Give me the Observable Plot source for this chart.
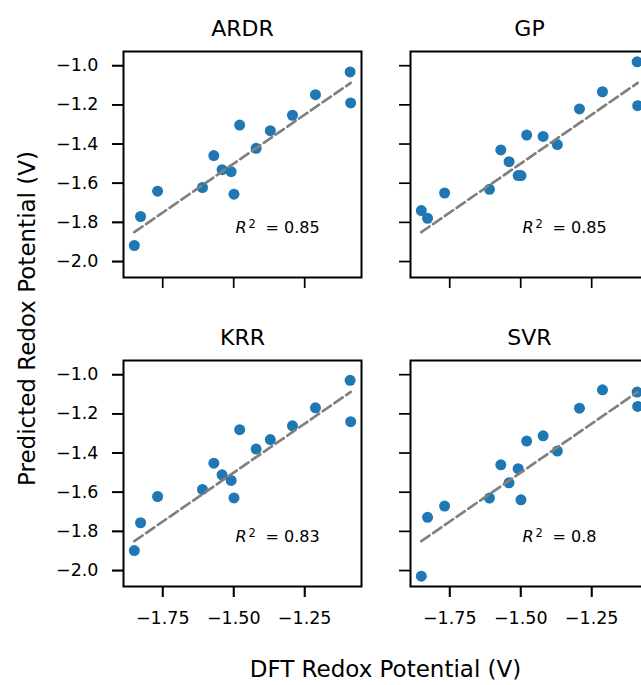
<!DOCTYPE html>
<html><head><meta charset="utf-8">
<script src="https://cdn.jsdelivr.net/npm/d3@7"></script>
<script src="https://cdn.jsdelivr.net/npm/@observablehq/plot@0.6"></script>
<style>
html,body{margin:0;padding:0;background:#fff;overflow:hidden;}
#chart{width:641px;height:685px;overflow:hidden;position:relative;}
#chart svg{max-width:none !important;}
</style></head><body><div id="chart"></div>
<script>
const models = ["ARDR", "GP", "KRR", "SVR"];
const r2Labels = ["0.85", "0.85", "0.83", "0.8"];
const dft  = [-1.850, -1.828, -1.768, -1.610, -1.570, -1.541, -1.509, -1.499, -1.479, -1.421, -1.371, -1.293, -1.212, -1.090, -1.088];
const ardr = [-1.918, -1.770, -1.641, -1.622, -1.459, -1.531, -1.541, -1.656, -1.303, -1.422, -1.332, -1.253, -1.148, -1.032, -1.190];
const gp   = [-1.740, -1.779, -1.650, -1.631, -1.430, -1.490, -1.561, -1.561, -1.354, -1.361, -1.403, -1.221, -1.133, -0.980, -1.204];
const krr  = [-1.898, -1.756, -1.622, -1.586, -1.452, -1.511, -1.540, -1.629, -1.281, -1.380, -1.331, -1.261, -1.169, -1.029, -1.240];
const svr  = [-2.029, -1.728, -1.671, -1.630, -1.460, -1.552, -1.480, -1.639, -1.339, -1.312, -1.390, -1.171, -1.077, -1.089, -1.162];
const xTicks = [-1.75, -1.5, -1.25];
const yTicks = [-2.0, -1.8, -1.6, -1.4, -1.2, -1.0];
const xLabel = "DFT Redox Potential (V)";
const yLabel = "Predicted Redox Potential (V)";

const predicted = {ARDR: ardr, GP: gp, KRR: krr, SVR: svr};
const panels = models.map((m, i) => ({model: m, col: i % 2, row: Math.floor(i / 2), r2: r2Labels[i]}));
const points = panels.flatMap(p => dft.map((x, j) => ({...p, x, y: predicted[p.model][j]})));
const [x0, x1] = d3.extent(dft);
const identity = panels.flatMap(p => [{...p, x: x0, y: x0}, {...p, x: x1, y: x1}]);
const pad = e => { const m = (e[1] - e[0]) * 0.05; return [e[0] - m, e[1] + m]; };

const W = 660, H = 685;
const mL = 123, mR = W - 648, mT = 51, mB = 99;
const fc = {fx: "col", fy: "row"};
const blank = () => "";

const plot = Plot.plot({
  width: W, height: H,
  marginLeft: mL, marginRight: mR, marginTop: mT, marginBottom: mB,
  style: {fontFamily: "DejaVu Sans", color: "black", background: "white", maxWidth: "none"},
  fx: {domain: [0, 1], paddingInner: 49 / 287, paddingOuter: 0, axis: null},
  fy: {domain: [0, 1], paddingInner: 83 / 309, paddingOuter: 0, axis: null},
  x: {domain: pad([x0, x1])},
  y: {domain: pad(d3.extent(points, d => d.y))},
  marks: [
    Plot.dot(points, {...fc, x: "x", y: "y", r: 5.5, fill: "#1f77b4", stroke: "none"}),
    Plot.line(identity, {...fc, x: "x", y: "y", z: "model", stroke: "#808080", strokeWidth: 2.7, strokeDasharray: "10,4.3"}),
    Plot.frame({stroke: "black", strokeWidth: 2}),
    Plot.axisX({ticks: xTicks, anchor: "bottom", tickSize: 11, strokeWidth: 1.7, facetAnchor: null, tickFormat: blank, label: null}),
    Plot.axisX({ticks: xTicks, anchor: "bottom", tickSize: 11, strokeWidth: 1.7, tickPadding: 14, fontSize: 17.5, tickFormat: d3.format(".2f"), label: null}),
    Plot.axisY({ticks: yTicks, anchor: "left", tickSize: 11, strokeWidth: 1.7, facetAnchor: null, tickFormat: blank, label: null}),
    Plot.axisY({ticks: yTicks, anchor: "left", tickSize: 11, strokeWidth: 1.7, tickPadding: 14, fontSize: 17.5, tickFormat: d3.format(".1f"), label: null}),
    Plot.text(panels, {...fc, text: "model", frameAnchor: "top", dy: -16, lineAnchor: "bottom", fontSize: 22}),
    Plot.text(panels, {...fc, text: () => "R", frameAnchor: "bottom-left", dx: 112, dy: -45, lineAnchor: "bottom", textAnchor: "start", fontSize: 16, fontStyle: "italic"}),
    Plot.text(panels, {...fc, text: () => "2", frameAnchor: "bottom-left", dx: 125, dy: -50, lineAnchor: "bottom", textAnchor: "start", fontSize: 11.5}),
    Plot.text(panels, {...fc, text: d => "= " + d.r2, frameAnchor: "bottom-left", dx: 142, dy: -45, lineAnchor: "bottom", textAnchor: "start", fontSize: 16})
  ]
});

const svg = d3.select(plot);
svg.append("text")
  .attr("x", (mL + (W - mR)) / 2).attr("y", 677)
  .attr("text-anchor", "middle").attr("font-size", 23).attr("fill", "black")
  .text(xLabel);
svg.append("text")
  .attr("transform", `translate(35,${(mT + (H - mB)) / 2}) rotate(-90)`)
  .attr("text-anchor", "middle").attr("font-size", 23).attr("fill", "black")
  .text(yLabel);

document.getElementById("chart").appendChild(plot);
</script></body></html>
